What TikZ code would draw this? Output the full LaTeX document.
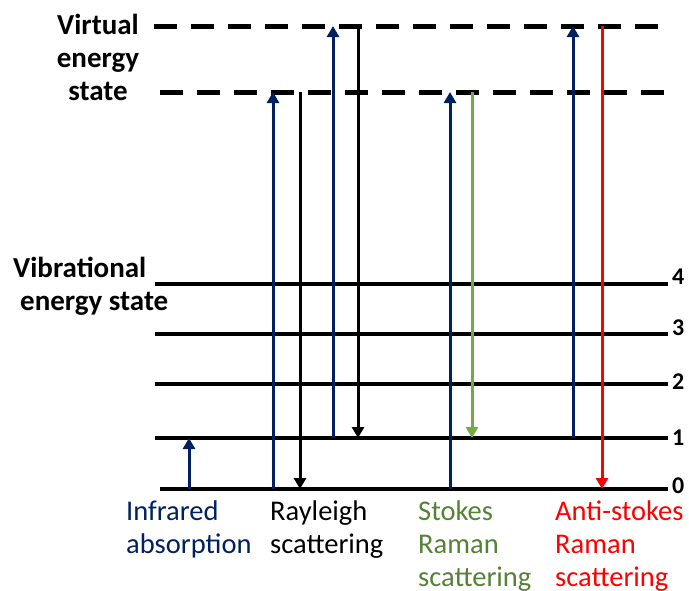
\documentclass[tikz,border=0pt]{standalone}
\usepackage{fontspec}
\setmainfont{Carlito}
\usetikzlibrary{arrows.meta}
\definecolor{navy}{HTML}{002060}
\definecolor{stokesgreen}{HTML}{70AD47}
\definecolor{stokestext}{HTML}{548235}
\definecolor{antired}{HTML}{FF0000}
\tikzset{
  levelline/.style={line width=4pt},
  virtline/.style={line width=5pt, dash pattern=on 23pt off 14pt},
  trans/.style={line width=3pt, -{Triangle[width=12pt,length=11pt]}},
  biglabel/.style={font=\fontsize{29}{33}\selectfont\bfseries, inner sep=0pt, align=center},
  botlabel/.style={font=\fontsize{28.5}{33}\selectfont, inner sep=0pt, align=left, anchor=base west},
  numlabel/.style={font=\fontsize{24}{26}\selectfont\bfseries, inner sep=0pt, anchor=west},
}
\begin{document}
\begin{tikzpicture}[x=1pt,y=-1pt]
\useasboundingbox (0,0) rectangle (689,590);

% level coordinates
\coordinate (V2w) at (154,26);  \coordinate (V2e) at (665,26);
\coordinate (V1w) at (160,92);  \coordinate (V1e) at (668,92);
\coordinate (L4w) at (155,284); \coordinate (L4e) at (668,284);
\coordinate (L3w) at (155,334); \coordinate (L3e) at (668,334);
\coordinate (L2w) at (155,384); \coordinate (L2e) at (668,384);
\coordinate (L1w) at (155,438); \coordinate (L1e) at (668,438);
\coordinate (L0w) at (160,489); \coordinate (L0e) at (668,489);

\draw[virtline] (V2w) -- (V2e);
\draw[virtline] (V1w) -- (V1e);
\foreach \l in {L4,L3,L2,L1,L0} \draw[levelline] (\l w) -- (\l e);

% level numbers
\node[numlabel] (n4) at ([xshift=4pt,yshift=7pt]L4e) {4};
\node[numlabel] (n3) at ([xshift=4pt,yshift=6pt]L3e) {3};
\node[numlabel] (n2) at ([xshift=4pt,yshift=2pt]L2e) {2};
\node[numlabel] (n1) at ([xshift=4pt,yshift=0pt]L1e) {1};
\node[numlabel] (n0) at ([xshift=4pt,yshift=3pt]L0e) {0};

% transition coordinates
\coordinate (ira) at (189,489); \coordinate (irb) at (189,438);
\coordinate (ra) at (273,489);  \coordinate (rb) at (273,92);
\coordinate (rc) at (300,92);   \coordinate (rd) at (300,489);
\coordinate (re) at (333,438);  \coordinate (rf) at (333,26);
\coordinate (rg) at (358,26);   \coordinate (rh) at (358,438);
\coordinate (sa) at (450,489);  \coordinate (sb) at (450,92);
\coordinate (sc) at (472,92);   \coordinate (sd) at (472,438);
\coordinate (aa) at (573,438);  \coordinate (ab) at (573,26);
\coordinate (ac) at (602,26);   \coordinate (ad) at (602,489);

\draw[trans, navy] (ira) -- (irb);
\draw[trans, navy] (ra) -- (rb);
\draw[trans, black] (rc) -- (rd);
\draw[trans, navy] (re) -- (rf);
\draw[trans, black] (rg) -- (rh);
\draw[trans, navy] (sa) -- (sb);
\draw[trans, stokesgreen] (sc) -- (sd);
\draw[trans, navy] (aa) -- (ab);
\draw[trans, antired] (ac) -- (ad);

% labels (base anchor = baseline of last line)
\node[biglabel, anchor=base] (virt) at (98,100) {Virtual\\energy\\state};
\node[biglabel, align=left, anchor=base west] (vib) at (13,310) {Vibrational\\\hspace{7pt}energy state};

\node[botlabel, text=navy] (ir) at (126,553) {Infrared\\absorption};
\node[botlabel, text=black] (ray) at (270,553) {Rayleigh\\scattering};
\node[botlabel, text=stokestext] (sto) at (418,586) {Stokes\\Raman\\scattering};
\node[botlabel, text=antired] (ast) at (555,586) {Anti-stokes\\Raman\\scattering};
\end{tikzpicture}
\end{document}
